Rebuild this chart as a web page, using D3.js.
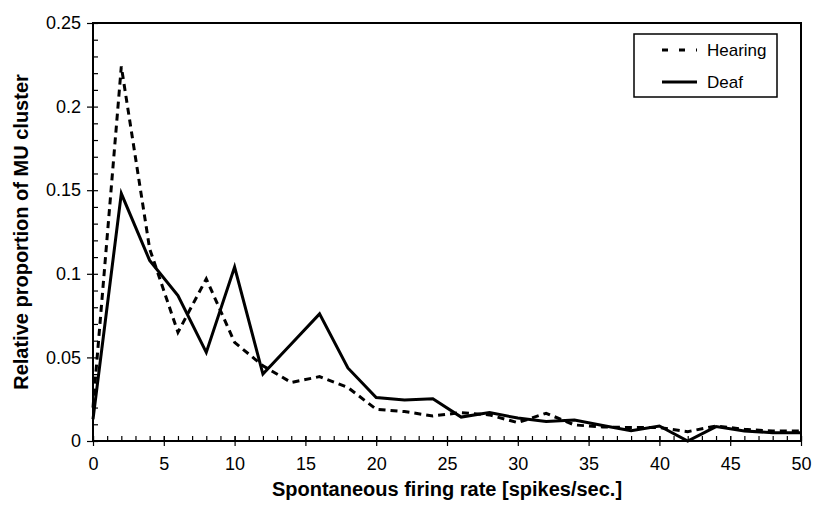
<!DOCTYPE html>
<html>
<head>
<meta charset="utf-8">
<script src="https://cdn.jsdelivr.net/npm/d3@7"></script>
<style>
  body { margin: 0; background: #fff; }
  text { font-family: "Liberation Sans", Arial, sans-serif; fill: #000; }
</style>
</head>
<body>
<div id="chart"></div>
<script>
// firing rate bins (spikes/sec)
var rates = [0, 2, 4, 6, 8, 10, 12, 14, 16, 18, 20, 22, 24, 26, 28, 30, 32, 34, 36, 38, 40, 42, 44, 46, 48, 50]

var hearing = [0.02, 0.224, 0.115, 0.065, 0.097, 0.059, 0.045, 0.035, 0.0385, 0.032, 0.019, 0.0176, 0.015, 0.017,
      0.0156, 0.011, 0.0166, 0.0096, 0.0084, 0.008, 0.008, 0.0056, 0.009, 0.007, 0.006, 0.006]
var deaf = [0.013, 0.148, 0.108, 0.087, 0.053, 0.104, 0.04, 0.058, 0.076, 0.0437, 0.026, 0.0245, 0.0253, 0.0143,
      0.017, 0.0137, 0.0116, 0.0126, 0.0093, 0.0062, 0.009, 0, 0.0086, 0.006, 0.005, 0.005]

var xTicks = [0, 5, 10, 15, 20, 25, 30, 35, 40, 45, 50]
var yTicks = [0, 0.05, 0.1, 0.15, 0.2, 0.25]

var svgWidth = 816
var svgHeight = 507
var margin = { top: 23, right: 15, bottom: 66, left: 93 }
var width = 801 - margin.left
var height = 441 - margin.top

var svg = d3.select('#chart').append('svg')
      .attr('width', svgWidth)
      .attr('height', svgHeight)

var chartGroup = svg.append('g')
      .attr('transform', `translate(${margin.left}, ${margin.top})`)

var x = d3.scaleLinear().domain([0, 50]).range([0, width])
var y = d3.scaleLinear().domain([0, 0.25]).range([height, 0])

// frame
chartGroup.append('rect')
      .attr('width', width).attr('height', height)
      .attr('fill', 'none').attr('stroke', '#000').attr('stroke-width', 2)

// minor ticks (inside)
chartGroup.append('g')
      .attr('transform', `translate(0, ${height})`)
      .call(d3.axisTop(x).tickValues(d3.range(0, 51, 1)).tickSize(5).tickFormat(''))
      .call(g => g.select('.domain').remove())

chartGroup.append('g')
      .call(d3.axisRight(y).tickValues(d3.range(0, 0.2501, 0.01)).tickSize(5).tickFormat(''))
      .call(g => g.select('.domain').remove())

// major ticks + labels
var xAxis = chartGroup.append('g')
      .attr('transform', `translate(0, ${height})`)
      .call(d3.axisBottom(x).tickValues(xTicks).tickSize(5).tickPadding(11).tickFormat(d3.format('d')))
xAxis.select('.domain').remove()
xAxis.selectAll('.tick line').attr('y1', -5)
xAxis.selectAll('text').style('font-size', '18px')

var yAxis = chartGroup.append('g')
      .call(d3.axisLeft(y).tickValues(yTicks).tickSize(6).tickPadding(6).tickFormat(d => d3.format('')(+d.toFixed(2))))
yAxis.select('.domain').remove()
yAxis.selectAll('text').style('font-size', '18px')

chartGroup.selectAll('.tick line').attr('stroke', '#000').attr('stroke-width', 1.2)

// lines
var line = d3.line()
      .x((d, i) => x(rates[i]))
      .y(d => y(d))

chartGroup.append('path')
      .datum(hearing)
      .attr('d', line)
      .attr('fill', 'none')
      .attr('stroke', '#000')
      .attr('stroke-width', 3)
      .attr('stroke-dasharray', '7,5')

chartGroup.append('path')
      .datum(deaf)
      .attr('d', line)
      .attr('fill', 'none')
      .attr('stroke', '#000')
      .attr('stroke-width', 3)
      .attr('stroke-linejoin', 'miter')

// legend
var legend = svg.append('g').attr('transform', 'translate(634, 34)')
legend.append('rect')
      .attr('width', 143).attr('height', 63)
      .attr('fill', '#fff').attr('stroke', '#000').attr('stroke-width', 1.5)
legend.append('line')
      .attr('x1', 28).attr('x2', 63).attr('y1', 16).attr('y2', 16)
      .attr('stroke', '#000').attr('stroke-width', 3).attr('stroke-dasharray', '6,11')
legend.append('line')
      .attr('x1', 28).attr('x2', 63).attr('y1', 48).attr('y2', 48)
      .attr('stroke', '#000').attr('stroke-width', 3)
legend.append('text').attr('x', 73).attr('y', 22).style('font-size', '17px').text('Hearing')
legend.append('text').attr('x', 73).attr('y', 54).style('font-size', '17px').text('Deaf')

// axis titles
svg.append('text')
      .attr('x', 447)
      .attr('y', 496)
      .attr('text-anchor', 'middle')
      .style('font-size', '20px')
      .style('font-weight', 'bold')
      .text('Spontaneous firing rate [spikes/sec.]')

svg.append('text')
      .attr('transform', `translate(28, ${margin.top + height / 2}) rotate(-90)`)
      .attr('text-anchor', 'middle')
      .style('font-size', '20px')
      .style('font-weight', 'bold')
      .text('Relative proportion of MU cluster')
</script>
</body>
</html>
